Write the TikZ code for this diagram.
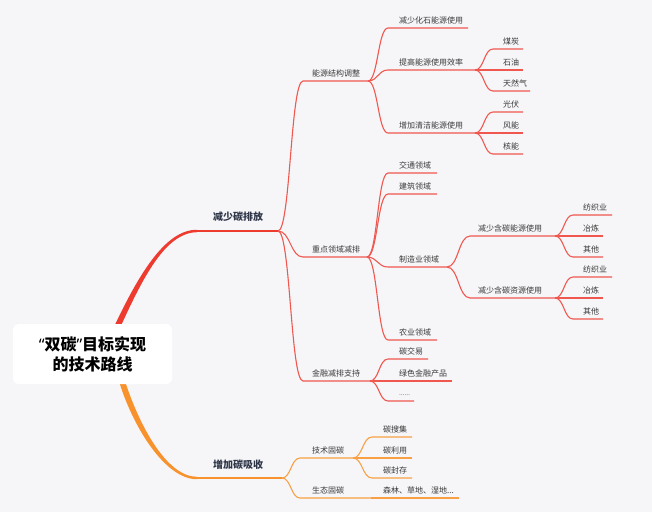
\documentclass[tikz,border=0pt]{standalone}
\usepackage{fontspec}
\setmainfont{Noto Sans CJK SC}
\newfontfamily\quotefont{Noto Sans}
\usetikzlibrary{calc}
\definecolor{bg}{HTML}{F6F6F9}
\definecolor{redmain}{HTML}{EE3B2F}
\definecolor{redline}{HTML}{F0574E}
\definecolor{orangemain}{HTML}{F7922D}
\definecolor{orangeline}{HTML}{F8A043}
\definecolor{txt}{HTML}{3A3A3A}
\definecolor{txtmain}{HTML}{2E3547}
\tikzset{
  lbl/.style={anchor=west, inner sep=0pt, font=\fontsize{8}{9}\selectfont, text=txt},
  lblmain/.style={anchor=west, inner sep=0pt, font=\fontsize{10}{12}\selectfont\bfseries, text=txtmain},
  rootbox/.style={fill=white, rounded corners=6pt, minimum width=159pt, minimum height=60pt, align=center, inner sep=0pt, font=\fontsize{16}{20}\selectfont\bfseries, text=black},
  rbr/.style={draw=redline, line width=1.1pt},
  obr/.style={draw=orangeline, line width=1.1pt},
  mm/.style={to path={.. controls ($(\tikztostart)!0.5!(\tikztotarget |- \tikztostart)$) and ($(\tikztostart |- \tikztotarget)!0.5!(\tikztotarget)$) .. (\tikztotarget)}}
}
\newcommand\topic[6]{%
  \coordinate (#1-s) at (#2,#4);
  \coordinate (#1-e) at (#3,#4);
  \node[lbl] (#1) at (#5,#4-8) {#6};}
\begin{document}
\begin{tikzpicture}[x=1pt,y=-1pt]
\fill[bg] (0,0) rectangle (652,512);
\useasboundingbox (0,0) rectangle (652,512);

% main tapered curves
\fill[redmain] (112.5,330) .. controls (138,275.5) and (165,229.4) .. (197,229.8) -- (197,232.2) .. controls (165,232.6) and (142.5,278.5) .. (119,330) -- cycle;
\fill[orangemain] (118,378) .. controls (132,426) and (165,479.4) .. (197,479.2) -- (197,476.8) .. controls (166,476.6) and (138.5,424) .. (124,378) -- cycle;

% root
\node[rootbox] (root) at (92.5,354) {{\quotefont “}双碳{\quotefont ”}目标实现\\的技术路线};

% level 1
\coordinate (A-s) at (197,231); \coordinate (A-e) at (278,231);
\node[lblmain] (A) at (213,217) {减少碳排放};
\coordinate (B-s) at (197,478); \coordinate (B-e) at (282,478);
\node[lblmain] (B) at (213,465) {增加碳吸收};
\draw[draw=redmain, line width=1.7pt] (A-s) -- (A-e);
\draw[draw=orangemain, line width=1.7pt] (B-s) -- (B-e);

% level 2
\topic{n1}{303}{368}{81}{312}{能源结构调整}
\topic{n2}{303}{367}{257}{312}{重点领域减排}
\topic{n3}{303}{370}{381}{312}{金融减排支持}
\draw[rbr] (A-e) to[mm] (n1-s) -- (n1-e);
\draw[rbr] (A-e) to[mm] (n2-s) -- (n2-e);
\draw[rbr] (A-e) to[mm] (n3-s) -- (n3-e);

% under n1
\topic{n11}{388}{468}{28}{399}{减少化石能源使用}
\topic{n12}{388}{475}{70}{399}{提高能源使用效率}
\topic{n13}{388}{475}{133}{399}{增加清洁能源使用}
\draw[rbr] (n1-e) to[mm] (n11-s) -- (n11-e);
\draw[rbr] (n1-e) to[mm] (n12-s) -- (n12-e);
\draw[rbr] (n1-e) to[mm] (n13-s) -- (n13-e);

\topic{n121}{493}{523}{49}{503}{煤炭}
\topic{n122}{493}{523}{70}{503}{石油}
\topic{n123}{493}{530}{91}{503}{天然气}
\draw[rbr] (n12-e) to[mm] (n121-s) -- (n121-e);
\draw[rbr] (n12-e) to[mm] (n122-s) -- (n122-e);
\draw[rbr] (n12-e) to[mm] (n123-s) -- (n123-e);

\topic{n131}{493}{523}{112}{503}{光伏}
\topic{n132}{493}{523}{133}{503}{风能}
\topic{n133}{493}{523}{154}{503}{核能}
\draw[rbr] (n13-e) to[mm] (n131-s) -- (n131-e);
\draw[rbr] (n13-e) to[mm] (n132-s) -- (n132-e);
\draw[rbr] (n13-e) to[mm] (n133-s) -- (n133-e);

% under n2
\topic{n21}{388}{437}{173}{399}{交通领域}
\topic{n22}{388}{437}{194}{399}{建筑领域}
\topic{n23}{388}{447}{267}{399}{制造业领域}
\topic{n24}{388}{437}{340}{399}{农业领域}
\draw[rbr] (n2-e) to[mm] (n21-s) -- (n21-e);
\draw[rbr] (n2-e) to[mm] (n22-s) -- (n22-e);
\draw[rbr] (n2-e) to[mm] (n23-s) -- (n23-e);
\draw[rbr] (n2-e) to[mm] (n24-s) -- (n24-e);

\topic{n231}{470}{555}{236}{478}{减少含碳能源使用}
\topic{n232}{470}{555}{298}{478}{减少含碳资源使用}
\draw[rbr] (n23-e) to[mm] (n231-s) -- (n231-e);
\draw[rbr] (n23-e) to[mm] (n232-s) -- (n232-e);

\topic{n2311}{573}{612}{215}{583}{纺织业}
\topic{n2312}{573}{603}{236}{583}{冶炼}
\topic{n2313}{573}{603}{257}{583}{其他}
\draw[rbr] (n231-e) to[mm] (n2311-s) -- (n2311-e);
\draw[rbr] (n231-e) to[mm] (n2312-s) -- (n2312-e);
\draw[rbr] (n231-e) to[mm] (n2313-s) -- (n2313-e);

\topic{n2321}{573}{612}{277}{583}{纺织业}
\topic{n2322}{573}{603}{298}{583}{冶炼}
\topic{n2323}{573}{603}{319}{583}{其他}
\draw[rbr] (n232-e) to[mm] (n2321-s) -- (n2321-e);
\draw[rbr] (n232-e) to[mm] (n2322-s) -- (n2322-e);
\draw[rbr] (n232-e) to[mm] (n2323-s) -- (n2323-e);

% under n3
\topic{n31}{388}{428}{359}{399}{碳交易}
\topic{n32}{388}{452}{381}{399}{绿色金融产品}
\coordinate (n33-s) at (388,401); \coordinate (n33-e) at (414,401);
\node[lbl, text=gray, font=\fontsize{7}{8}\selectfont\quotefont] (n33) at (399,395) {……};
\draw[rbr] (n3-e) to[mm] (n31-s) -- (n31-e);
\draw[rbr] (n3-e) to[mm] (n32-s) -- (n32-e);
\draw[rbr] (n3-e) to[mm] (n33-s) -- (n33-e);

% under B
\topic{m1}{300}{353}{458}{312}{技术固碳}
\topic{m2}{300}{371}{498}{312}{生态固碳}
\draw[obr] (B-e) to[mm] (m1-s) -- (m1-e);
\draw[obr] (B-e) to[mm] (m2-s) -- (m2-e);

\topic{m11}{372}{412}{437}{383}{碳搜集}
\topic{m12}{372}{412}{458}{383}{碳利用}
\topic{m13}{372}{412}{478}{383}{碳封存}
\draw[obr] (m1-e) to[mm] (m11-s) -- (m11-e);
\draw[obr] (m1-e) to[mm] (m12-s) -- (m12-e);
\draw[obr] (m1-e) to[mm] (m13-s) -- (m13-e);

\topic{m21}{371}{459}{498}{383}{森林、草地、湿地...}
\draw[obr] (m2-e) -- (m21-s) -- (m21-e);
\end{tikzpicture}
\end{document}
